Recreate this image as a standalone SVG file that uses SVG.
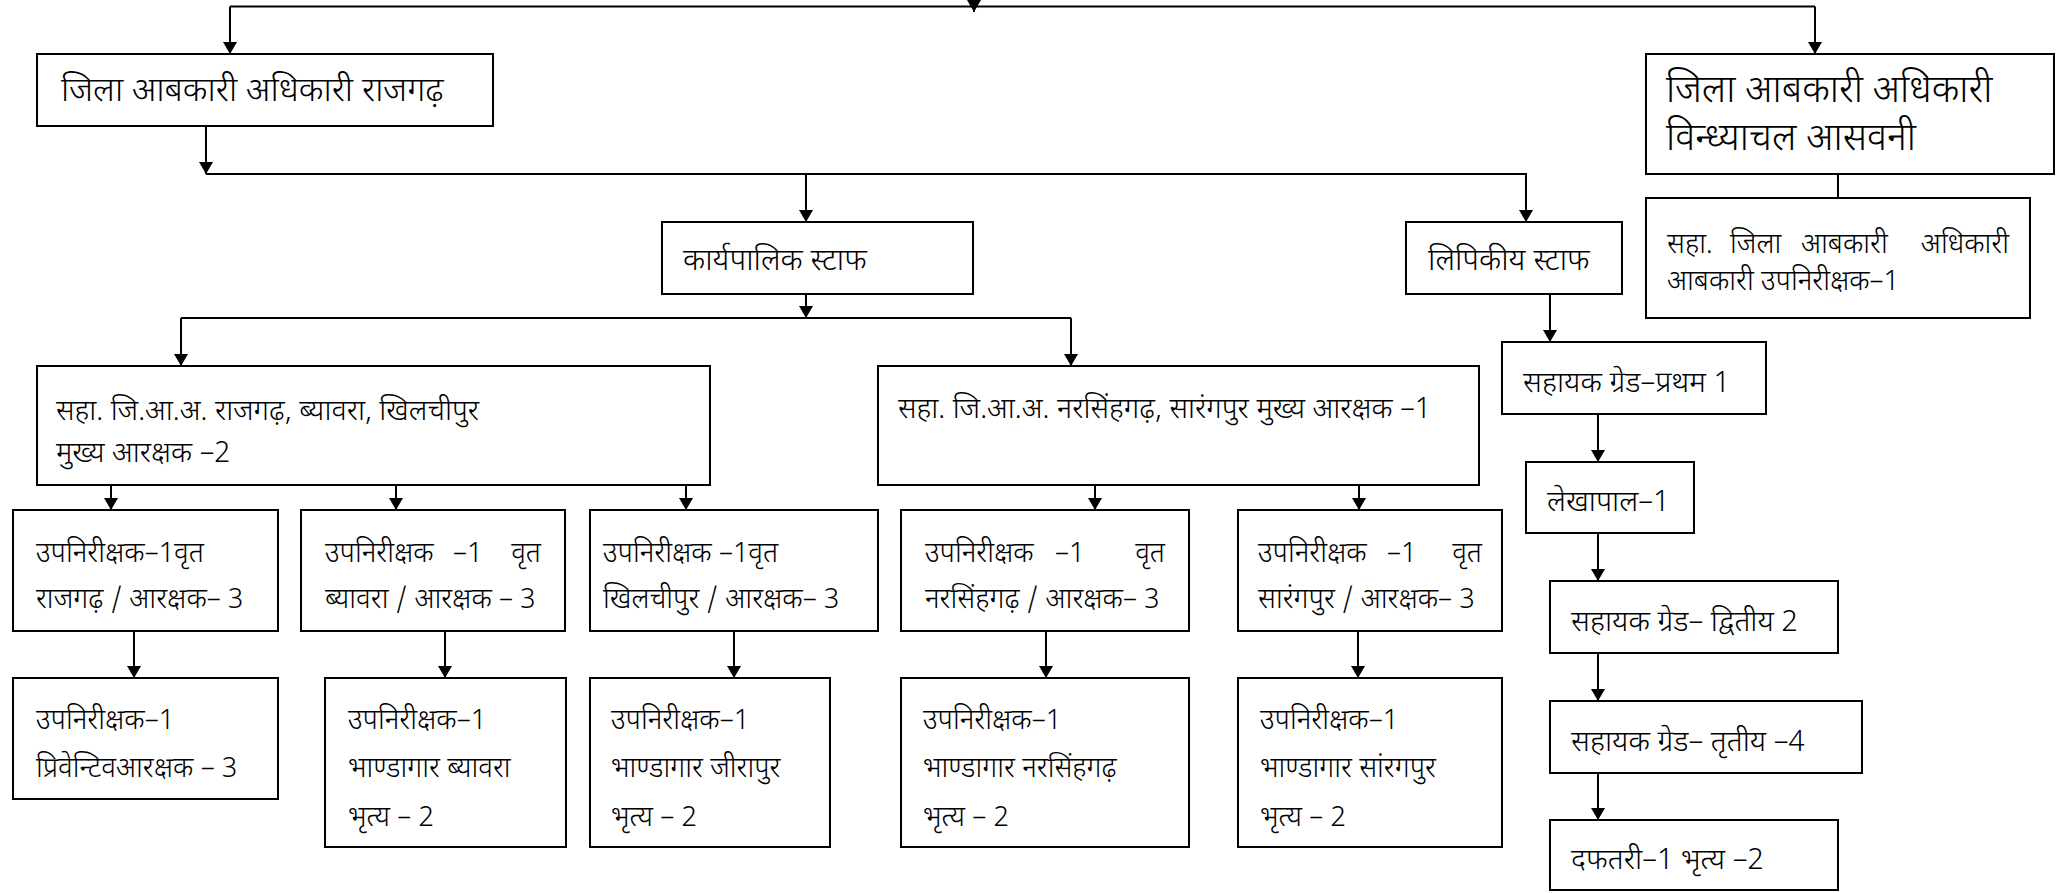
<svg xmlns="http://www.w3.org/2000/svg" width="2058" height="893" viewBox="0 0 2058 893">
<defs>
<marker id="ah" viewBox="0 0 12 14" refX="12" refY="7" markerWidth="12" markerHeight="14" markerUnits="userSpaceOnUse" orient="auto">
<path d="M0,0 L12,7 L0,14 Z" fill="#000"/>
</marker>
<style>
rect{fill:#fff;stroke:#000;stroke-width:2}
text{font-family:"Noto Sans Devanagari","Lohit Devanagari","Noto Sans","Liberation Sans",sans-serif;fill:#000;font-weight:300}
.e{text-anchor:end}
.c path{fill:none;stroke:#000;stroke-width:2}
.a{marker-end:url(#ah)}
.sb{font-size:38px}.sa{font-size:34px}.sk{font-size:30.5px}.sd{font-size:29px}.sf{font-size:28px}.sh{font-size:29.5px}.sc{font-size:28px}
</style>
</defs>
<rect x="0" y="0" width="2058" height="893" style="fill:#fff;stroke:none"/>
<g class="c" id="connectors">
<path d="M230,6.5 H1815"/>
<path class="a" d="M230,6.5 V54"/>
<path class="a" d="M1815,6.5 V54"/>
<path class="a" d="M974,-10 V12"/>
<path class="a" d="M206,126 V174"/>
<path class="a" d="M206,174 H1526 V222"/>
<path class="a" d="M806,174 V222"/>
<path d="M1838,174 V198"/>
<path class="a" d="M806,294 V318"/>
<path d="M181,318 H1071"/>
<path class="a" d="M181,318 V366"/>
<path class="a" d="M1071,318 V366"/>
<path class="a" d="M111,485 V510"/>
<path class="a" d="M396,485 V510"/>
<path class="a" d="M686,485 V510"/>
<path class="a" d="M1095,485 V510"/>
<path class="a" d="M1359,485 V510"/>
<path class="a" d="M134,631 V678"/>
<path class="a" d="M445,631 V678"/>
<path class="a" d="M734,631 V678"/>
<path class="a" d="M1046,631 V678"/>
<path class="a" d="M1358,631 V678"/>
<path class="a" d="M1550,294 V342"/>
<path class="a" d="M1598,414 V462"/>
<path class="a" d="M1598,533 V581"/>
<path class="a" d="M1598,653 V701"/>
<path class="a" d="M1598,773 V820"/>
</g>
<g id="n-rajgarh">
<rect x="37" y="54" width="456" height="72"/>
<text class="sa" x="61" y="101">जिला आबकारी अधिकारी राजगढ़</text>
</g>
<g id="n-vindhyachal">
<rect x="1646" y="54" width="408" height="120"/>
<text class="sb" x="1666" y="102">जिला आबकारी अधिकारी</text>
<text class="sb" x="1666" y="150">विन्ध्याचल आसवनी</text>
</g>
<g id="n-saha-vindhyachal">
<rect x="1646" y="198" width="384" height="120"/>
<text class="sc" x="1667" y="253">सहा.</text>
<text class="sc" x="1730" y="253">जिला</text>
<text class="sc" x="1801" y="253">आबकारी</text>
<text class="sc e" x="2009" y="253">अधिकारी</text>
<text class="sc" x="1667" y="290">आबकारी उपनिरीक्षक–1</text>
</g>
<g id="n-karyapalik">
<rect x="662" y="222" width="311" height="72"/>
<text class="sk" x="683" y="270">कार्यपालिक स्टाफ</text>
</g>
<g id="n-lipikiya">
<rect x="1406" y="222" width="216" height="72"/>
<text class="sk" x="1428" y="270">लिपिकीय स्टाफ</text>
</g>
<g id="n-saha-rajgarh">
<rect x="37" y="366" width="673" height="119"/>
<text class="sd" x="56" y="420">सहा. जि.आ.अ. राजगढ़, ब्यावरा, खिलचीपुर</text>
<text class="sd" x="56" y="462">मुख्य आरक्षक –2</text>
</g>
<g id="n-saha-narsinghgarh">
<rect x="878" y="366" width="601" height="119"/>
<text class="sd" x="898" y="418">सहा. जि.आ.अ. नरसिंहगढ़, सारंगपुर मुख्य आरक्षक –1</text>
</g>
<g id="n-f1">
<rect x="13" y="510" width="265" height="121"/>
<text class="sf" x="36" y="562">उपनिरीक्षक–1वृत</text>
<text class="sf" x="36" y="608">राजगढ़ / आरक्षक–  3</text>
</g>
<g id="n-f2">
<rect x="301" y="510" width="264" height="121"/>
<text class="sf" x="325" y="562">उपनिरीक्षक</text>
<text class="sf" x="453" y="562">–1</text>
<text class="sf e" x="541" y="562">वृत</text>
<text class="sf" x="325" y="608">ब्यावरा / आरक्षक – 3</text>
</g>
<g id="n-f3">
<rect x="590" y="510" width="288" height="121"/>
<text class="sf" x="603" y="562">उपनिरीक्षक –1वृत</text>
<text class="sf" x="603" y="608">खिलचीपुर / आरक्षक–  3</text>
</g>
<g id="n-f4">
<rect x="901" y="510" width="288" height="121"/>
<text class="sf" x="925" y="562">उपनिरीक्षक</text>
<text class="sf" x="1055" y="562">–1</text>
<text class="sf e" x="1165" y="562">वृत</text>
<text class="sf" x="925" y="608">नरसिंहगढ़ / आरक्षक–  3</text>
</g>
<g id="n-f5">
<rect x="1238" y="510" width="264" height="121"/>
<text class="sf" x="1258" y="562">उपनिरीक्षक</text>
<text class="sf" x="1387" y="562">–1</text>
<text class="sf e" x="1482" y="562">वृत</text>
<text class="sf" x="1258" y="608">सारंगपुर / आरक्षक–  3</text>
</g>
<g id="n-g1">
<rect x="13" y="678" width="265" height="121"/>
<text class="sf" x="36" y="729">उपनिरीक्षक–1</text>
<text class="sf" x="36" y="777">प्रिवेन्टिवआरक्षक – 3</text>
</g>
<g id="n-g2">
<rect x="325" y="678" width="241" height="169"/>
<text class="sf" x="348" y="729">उपनिरीक्षक–1</text>
<text class="sf" x="348" y="777">भाण्डागार ब्यावरा</text>
<text class="sf" x="348" y="826">भृत्य – 2</text>
</g>
<g id="n-g3">
<rect x="590" y="678" width="240" height="169"/>
<text class="sf" x="611" y="729">उपनिरीक्षक–1</text>
<text class="sf" x="611" y="777">भाण्डागार जीरापुर</text>
<text class="sf" x="611" y="826">भृत्य – 2</text>
</g>
<g id="n-g4">
<rect x="901" y="678" width="288" height="169"/>
<text class="sf" x="923" y="729">उपनिरीक्षक–1</text>
<text class="sf" x="923" y="777">भाण्डागार नरसिंहगढ़</text>
<text class="sf" x="923" y="826">भृत्य – 2</text>
</g>
<g id="n-g5">
<rect x="1238" y="678" width="264" height="169"/>
<text class="sf" x="1260" y="729">उपनिरीक्षक–1</text>
<text class="sf" x="1260" y="777">भाण्डागार सांरगपुर</text>
<text class="sf" x="1260" y="826">भृत्य – 2</text>
</g>
<g id="n-h1">
<rect x="1502" y="342" width="264" height="72"/>
<text class="sh" x="1523" y="392">सहायक ग्रेड–प्रथम 1</text>
</g>
<g id="n-h2">
<rect x="1526" y="462" width="168" height="71"/>
<text class="sh" x="1547" y="511">लेखापाल–1</text>
</g>
<g id="n-h3">
<rect x="1550" y="581" width="288" height="72"/>
<text class="sh" x="1571" y="631">सहायक ग्रेड– द्वितीय 2</text>
</g>
<g id="n-h4">
<rect x="1550" y="701" width="312" height="72"/>
<text class="sh" x="1571" y="751">सहायक ग्रेड– तृतीय –4</text>
</g>
<g id="n-h5">
<rect x="1550" y="820" width="288" height="70"/>
<text class="sh" x="1571" y="869">दफतरी–1 भृत्य –2</text>
</g>
</svg>
